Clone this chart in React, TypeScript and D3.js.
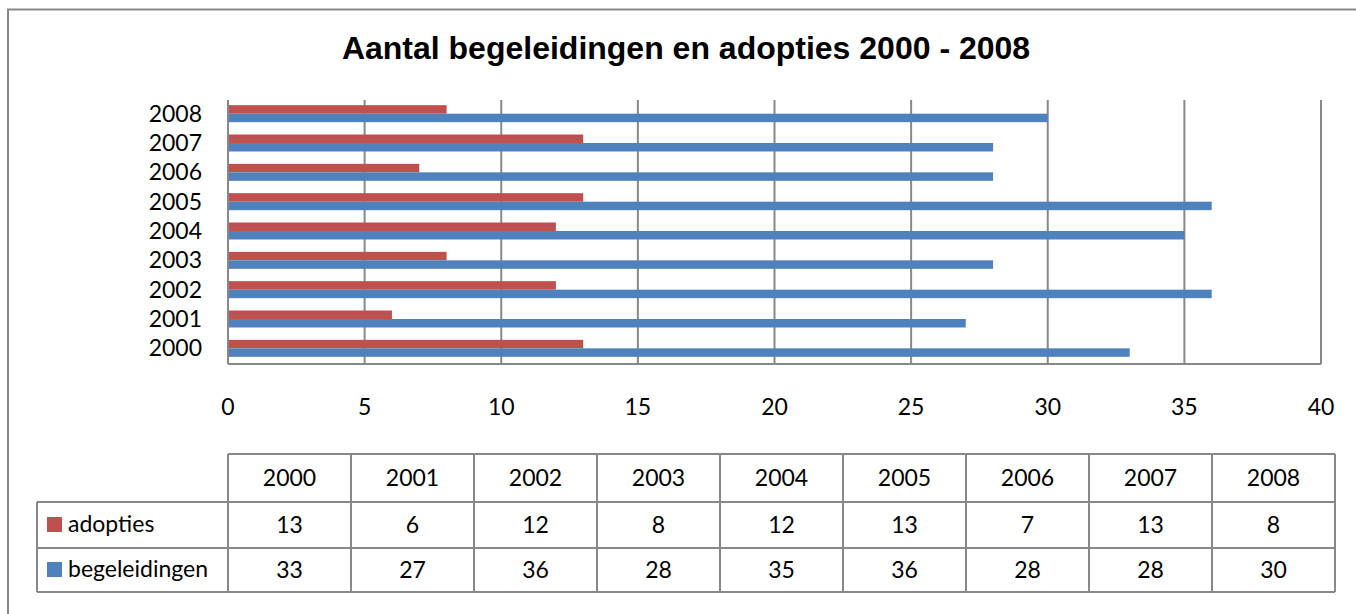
import React from "react";
import * as d3 from "d3";

const years = ["2000", "2001", "2002", "2003", "2004", "2005", "2006", "2007", "2008"];
const adopties = [13, 6, 12, 8, 12, 13, 7, 13, 8];
const begeleidingen = [33, 27, 36, 28, 35, 36, 28, 28, 30];
const xTicks = [0, 5, 10, 15, 20, 25, 30, 35, 40];
const seriesNames = ["adopties", "begeleidingen"];
const seriesColors = ["#C0504D", "#4F81BD"];
const title = "Aantal begeleidingen en adopties 2000 - 2008";

const W = 1356;
const H = 614;
const plot = { left: 228, right: 1321, top: 100, bottom: 364 };
const tbl = { left: 228, right: 1335, labelLeft: 37, rows: [454, 502, 548, 592] };
const gridColor = "#888888";
const font = "Lato, 'Open Sans', sans-serif";
const fs = 23;

export default function App() {
  const x = d3.scaleLinear().domain([0, 40]).range([plot.left, plot.right]);
  const y = d3
    .scaleBand<string>()
    .domain([...years].reverse())
    .range([plot.top, plot.bottom]);
  const barH = 8.5;
  const series = [adopties, begeleidingen];
  const col = d3.scaleBand<string>().domain(years).range([tbl.left, tbl.right]);
  const rows = tbl.rows;

  return (
    <svg
      width={W}
      height={H}
      style={{ position: "absolute", left: 0, top: 0, background: "#fff" }}
    >
      <rect x={0} y={0} width={W} height={H} fill="#fff" />
      <rect x={8} y={9.5} width={W + 20} height={H + 20} fill="none" stroke={gridColor} strokeWidth={2} />
      <text
        x={686}
        y={59}
        textAnchor="middle"
        fontFamily="'Liberation Sans', Arial, sans-serif"
        fontWeight="bold"
        fontSize={32}
        fill="#000"
      >
        {title}
      </text>

      {/* gridlines */}
      {xTicks.map((t) => (
        <line
          key={"g" + t}
          x1={x(t)}
          x2={x(t)}
          y1={plot.top}
          y2={plot.bottom}
          stroke={gridColor}
          strokeWidth={2}
        />
      ))}
      <line x1={plot.left} x2={plot.right} y1={plot.bottom} y2={plot.bottom} stroke={gridColor} strokeWidth={2} />

      {/* bars */}
      {years.map((yr, i) => {
        const c = (y(yr) as number) + y.bandwidth() / 2 - 1;
        return series.map((s, si) => (
          <rect
            key={yr + si}
            x={x(0) + 1}
            y={c - barH + si * barH}
            width={x(s[i]) - x(0) - 1}
            height={barH}
            fill={seriesColors[si]}
          />
        ));
      })}

      {/* y labels */}
      {years.map((yr) => (
        <text
          key={"yl" + yr}
          x={202}
          y={(y(yr) as number) + y.bandwidth() / 2 + 7}
          textAnchor="end"
          fontFamily={font}
          fontSize={fs}
          fill="#000"
        >
          {yr}
        </text>
      ))}

      {/* x labels */}
      {xTicks.map((t) => (
        <text
          key={"xl" + t}
          x={x(t)}
          y={415}
          textAnchor="middle"
          fontFamily={font}
          fontSize={fs}
          fill="#000"
        >
          {t}
        </text>
      ))}

      {/* table lines */}
      <line x1={tbl.left} x2={tbl.right} y1={rows[0]} y2={rows[0]} stroke={gridColor} strokeWidth={2} />
      {[1, 2, 3].map((r) => (
        <line key={"hr" + r} x1={tbl.labelLeft} x2={tbl.right} y1={rows[r]} y2={rows[r]} stroke={gridColor} strokeWidth={2} />
      ))}
      <line x1={tbl.labelLeft} x2={tbl.labelLeft} y1={rows[1]} y2={rows[3]} stroke={gridColor} strokeWidth={2} />
      {years.map((yr) => (
        <line
          key={"vl" + yr}
          x1={col(yr) as number}
          x2={col(yr) as number}
          y1={rows[0]}
          y2={rows[3]}
          stroke={gridColor}
          strokeWidth={2}
        />
      ))}
      <line x1={tbl.right} x2={tbl.right} y1={rows[0]} y2={rows[3]} stroke={gridColor} strokeWidth={2} />

      {/* table text */}
      {years.map((yr, i) => {
        const cx = (col(yr) as number) + col.bandwidth() / 2;
        return (
          <g key={"tt" + yr} fontFamily={font} fontSize={fs} fill="#000" textAnchor="middle">
            <text x={cx} y={(rows[0] + rows[1]) / 2 + 8}>{yr}</text>
            <text x={cx} y={(rows[1] + rows[2]) / 2 + 8}>{adopties[i]}</text>
            <text x={cx} y={(rows[2] + rows[3]) / 2 + 8}>{begeleidingen[i]}</text>
          </g>
        );
      })}
      {seriesNames.map((n, si) => {
        const cy = (rows[si + 1] + rows[si + 2]) / 2;
        return (
          <g key={"lg" + n}>
            <rect x={47} y={cy - 8} width={15} height={15} fill={seriesColors[si]} />
            <text x={68} y={cy + 7} fontFamily={font} fontSize={fs} fill="#000">
              {n}
            </text>
          </g>
        );
      })}
    </svg>
  );
}
